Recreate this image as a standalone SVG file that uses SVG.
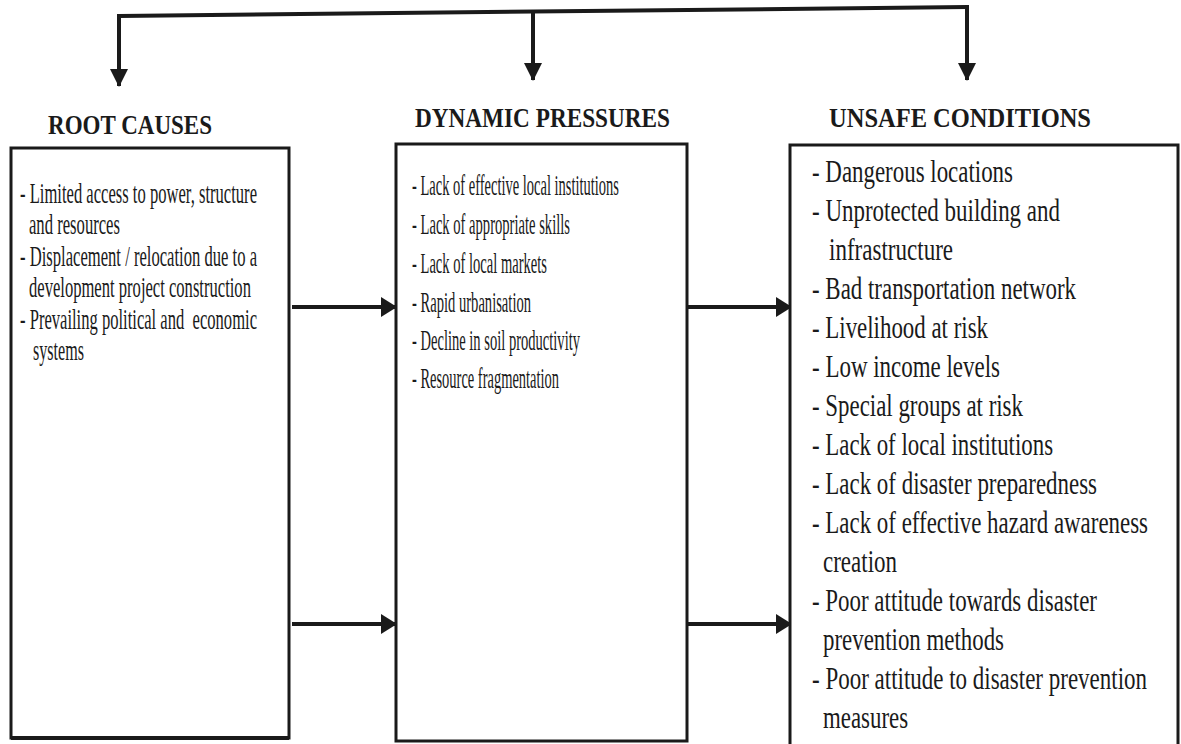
<svg xmlns="http://www.w3.org/2000/svg" width="1181" height="744" viewBox="0 0 1181 744">
<style>
.box{fill:#fff;stroke:#1a1a1a;stroke-width:3}
.head{font-family:"Liberation Serif",serif;font-weight:bold;font-size:27px;fill:#1a1a1a}
.t1{font-family:"Liberation Serif",serif;font-size:30px;fill:#1a1a1a;white-space:pre}
.t2{font-family:"Liberation Serif",serif;font-size:30px;fill:#1a1a1a}
.t3{font-family:"Liberation Serif",serif;font-size:31px;fill:#1a1a1a}
.conn{fill:none;stroke:#1a1a1a;stroke-width:4}
</style>
<defs>
<marker id="ah" viewBox="0 0 16 20" refX="15" refY="10" markerWidth="16" markerHeight="20" markerUnits="userSpaceOnUse" orient="auto">
<path d="M0,0 L16,10 L0,20 Z" fill="#1a1a1a"/>
</marker>
<marker id="av" viewBox="0 0 18 18" refX="17" refY="9" markerWidth="18" markerHeight="18" markerUnits="userSpaceOnUse" orient="auto">
<path d="M0,0 L18,9 L0,18 Z" fill="#1a1a1a"/>
</marker>
</defs>
<rect width="1181" height="744" fill="#fff"/>
<g id="connectors">
<path class="conn" d="M119,16 L967,7"/>
<path class="conn" d="M119,14 L119,86" marker-end="url(#av)"/>
<path class="conn" d="M533,10 L533,80" marker-end="url(#av)"/>
<path class="conn" d="M967,5 L967,80" marker-end="url(#av)"/>
<path class="conn" d="M292,307 L396,307" marker-end="url(#ah)"/>
<path class="conn" d="M292,624 L396,624" marker-end="url(#ah)"/>
<path class="conn" d="M688,307 L791,307" marker-end="url(#ah)"/>
<path class="conn" d="M688,624 L791,624" marker-end="url(#ah)"/>
</g>
<g id="root-causes">
<text class="head" x="48" y="134" textLength="164" lengthAdjust="spacingAndGlyphs">ROOT CAUSES</text>
<rect class="box" x="11" y="148" width="278" height="590"/>
<path d="M11,738 L289,738" stroke="#1a1a1a" stroke-width="4"/>
<g transform="translate(20,0) scale(0.554,1)">
<text class="t1" x="0" y="203" textLength="427.8" lengthAdjust="spacingAndGlyphs">- Limited access to power, structure</text>
<text class="t1" x="16.2" y="234" textLength="164.3" lengthAdjust="spacingAndGlyphs">and resources</text>
<text class="t1" x="0" y="266" textLength="427.8" lengthAdjust="spacingAndGlyphs">- Displacement / relocation due to a</text>
<text class="t1" x="16.2" y="297" textLength="400.7" lengthAdjust="spacingAndGlyphs">development project construction</text>
<text class="t1" x="0" y="329" textLength="427.8" lengthAdjust="spacingAndGlyphs">- Prevailing political and  economic</text>
<text class="t1" x="23.5" y="360" textLength="92.1" lengthAdjust="spacingAndGlyphs">systems</text>
</g>
</g>
<g id="dynamic-pressures">
<text class="head" x="415" y="127" textLength="255" lengthAdjust="spacingAndGlyphs">DYNAMIC PRESSURES</text>
<rect class="box" x="396" y="144" width="291" height="597"/>
<g transform="translate(412,0) scale(0.483,1)">
<text class="t2" x="0" y="195" textLength="428.6" lengthAdjust="spacingAndGlyphs">- Lack of effective local institutions</text>
<text class="t2" x="0" y="234" textLength="327.1" lengthAdjust="spacingAndGlyphs">- Lack of appropriate skills</text>
<text class="t2" x="0" y="273" textLength="279.5" lengthAdjust="spacingAndGlyphs">- Lack of local markets</text>
<text class="t2" x="0" y="312" textLength="246.4" lengthAdjust="spacingAndGlyphs">- Rapid urbanisation</text>
<text class="t2" x="0" y="350" textLength="347.8" lengthAdjust="spacingAndGlyphs">- Decline in soil productivity</text>
<text class="t2" x="0" y="388" textLength="304.3" lengthAdjust="spacingAndGlyphs">- Resource fragmentation</text>
</g>
</g>
<g id="unsafe-conditions">
<text class="head" x="829" y="127" textLength="262" lengthAdjust="spacingAndGlyphs">UNSAFE CONDITIONS</text>
<rect class="box" x="790" y="145" width="388" height="605"/>
<g transform="translate(812,0) scale(0.74,1)">
<text class="t3" x="0" y="182" textLength="271.6" lengthAdjust="spacingAndGlyphs">- Dangerous locations</text>
<text class="t3" x="0" y="221" textLength="335.1" lengthAdjust="spacingAndGlyphs">- Unprotected building and</text>
<text class="t3" x="23" y="260" textLength="167.6" lengthAdjust="spacingAndGlyphs">infrastructure</text>
<text class="t3" x="0" y="299" textLength="356.8" lengthAdjust="spacingAndGlyphs">- Bad transportation network</text>
<text class="t3" x="0" y="338" textLength="237.8" lengthAdjust="spacingAndGlyphs">- Livelihood at risk</text>
<text class="t3" x="0" y="377" textLength="254.1" lengthAdjust="spacingAndGlyphs">- Low income levels</text>
<text class="t3" x="0" y="416" textLength="285.1" lengthAdjust="spacingAndGlyphs">- Special groups at risk</text>
<text class="t3" x="0" y="455" textLength="325.7" lengthAdjust="spacingAndGlyphs">- Lack of local institutions</text>
<text class="t3" x="0" y="494" textLength="385.1" lengthAdjust="spacingAndGlyphs">- Lack of disaster preparedness</text>
<text class="t3" x="0" y="533" textLength="454.1" lengthAdjust="spacingAndGlyphs">- Lack of effective hazard awareness</text>
<text class="t3" x="14.9" y="572" textLength="100" lengthAdjust="spacingAndGlyphs">creation</text>
<text class="t3" x="0" y="611" textLength="385.1" lengthAdjust="spacingAndGlyphs">- Poor attitude towards disaster</text>
<text class="t3" x="14.9" y="650" textLength="244.6" lengthAdjust="spacingAndGlyphs">prevention methods</text>
<text class="t3" x="0" y="689" textLength="452.7" lengthAdjust="spacingAndGlyphs">- Poor attitude to disaster prevention</text>
<text class="t3" x="14.9" y="728" textLength="114.9" lengthAdjust="spacingAndGlyphs">measures</text>
</g>
</g>
</svg>
